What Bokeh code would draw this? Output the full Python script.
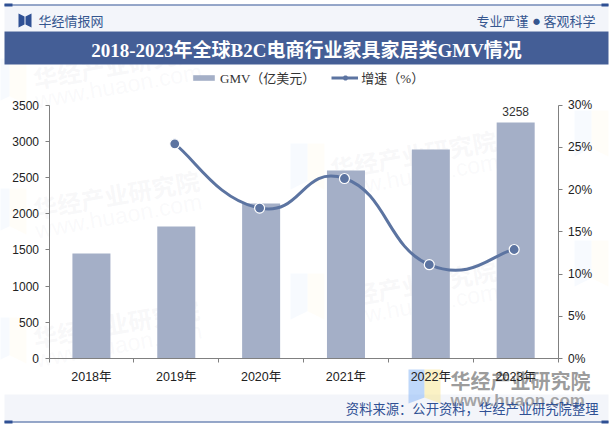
from bokeh.plotting import figure
from bokeh.models import (Range1d, LinearAxis, FixedTicker, Label, BoxAnnotation, PolyAnnotation,
                          CustomJSTickFormatter, Legend, LegendItem)
from bokeh.core.properties import value
from bokeh.embed import file_html
from bokeh.resources import INLINE

years = ["2018年", "2019年", "2020年", "2021年", "2022年", "2023年"]
gmv = [1450, 1822, 2140, 2596, 2886, 3258]
growth_years = [1, 2, 3, 4, 5]
growth = [25.4, 17.8, 21.3, 11.1, 12.9]
title = "2018-2023年全球B2C电商行业家具家居类GMV情况"
source_note = "资料来源：公开资料，华经产业研究院整理"
brand_left = "华经情报网"
brand_right_a = "专业严谨"
brand_right_b = "客观科学"
wm_cn = "华经产业研究院"
wm_en = "www.huaon.com"

BAR = "#a4afc7"
LINE = "#5c74a1"
NAVY = "#2f5094"
BAND = "#445e96"
PALE = "#f3f5fa"
CJK = "Noto Sans CJK SC"
SANS = "Liberation Sans, " + CJK
SERIF = "Liberation Serif, " + CJK
W, H = 612, 425
AX_L, AX_R, AX_T, AX_B = 48.5, 557.6, 104.5, 358.0

pitch = (AX_R - AX_L) / 6
x_lo = -0.5 - AX_L / pitch
x_hi = 5.5 + (W - AX_R) / pitch
yk = 3500 / (AX_B - AX_T)
y_lo = -(H - AX_B) * yk
y_hi = AX_B * yk
pk = 30 / (AX_B - AX_T)

p = figure(width=W, height=H, output_backend="svg", toolbar_location=None,
           x_range=Range1d(x_lo, x_hi), y_range=Range1d(y_lo, y_hi),
           x_axis_location=None, y_axis_location=None,
           min_border=0, background_fill_color="#ffffff", border_fill_color="#ffffff",
           outline_line_color=None)
p.grid.visible = False


def box(l, r, t, b, color, level="underlay", alpha=1.0):
    p.add_layout(BoxAnnotation(left=l, right=r, top=t, bottom=b, left_units="canvas",
                               right_units="canvas", top_units="canvas", bottom_units="canvas", fill_color=color,
                               fill_alpha=alpha, line_color=None, level=level, editable=False))


def label(x, y, text, color, size, align="left", font=CJK, style="normal", angle=0, alpha=1.0, level="annotation",
          baseline="middle"):
    p.add_layout(Label(x=x, y=y, x_units="canvas", y_units="canvas", text=text, text_color=color,
                       text_font_size=f"{size}px", text_align=align, text_baseline=baseline, text_font=font,
                       text_font_style=style, angle=angle, angle_units="deg", text_alpha=alpha, level=level))


def poly(xs, ys, color, alpha, level="underlay"):
    p.add_layout(PolyAnnotation(xs=xs, ys=ys, xs_units="canvas",
                                ys_units="canvas", fill_color=color, fill_alpha=alpha, line_color=None, level=level))


def logo(x, y, w, h, alpha, level="underlay"):
    poly([x, x + w / 2, x + w / 2, x], [y, y, y + h * 0.82, y + h], "#7fb2f5", alpha, level)
    poly([x + w / 2, x + w, x + w, x + w / 2], [y, y, y + h, y + h * 0.82], "#f8e58c", alpha, level)


# faint repeated watermarks behind the chart
for tx, ty in [(33, 78), (33, 208), (33, 337), (330, 168), (330, 298)]:
    label(tx, ty, wm_cn, "#b9bcc4", 24, style="bold", angle=10, alpha=0.11, level="underlay", baseline="alphabetic")
    label(tx + 2, ty + 22, wm_en, "#b9bcc4", 23, font="Liberation Sans", angle=10, alpha=0.08, level="underlay",
          baseline="alphabetic")
for lx, ly in [(-8, 58), (-8, 188), (-8, 317), (290, 143), (290, 273), (574, 110), (574, 240)]:
    logo(lx, ly, 34, 46, 0.06)

# header and footer
box(4, 608, 5, 31, PALE)
box(4, 608, 31, 64, BAND)
box(4, 608, 394, 421, PALE)
box(4, 608, 4, 5, NAVY)
box(4, 12, 3, 6, NAVY)
box(601, 608, 3, 6, NAVY)
box(4, 608, 421, 422, NAVY)
box(4, 12, 420, 423, NAVY)
box(601, 608, 420, 423, NAVY)
poly([18, 24, 24, 18], [13, 16, 24, 27], NAVY, 1)
poly([31, 25, 25, 31], [13, 16, 24, 27], NAVY, 1)
label(38, 20, brand_left, "#35568f", 13)
label(476, 20, brand_right_a, "#35568f", 13)
label(536, 20, "●", "#35568f", 7, align="center")
label(595, 20, brand_right_b, "#35568f", 13, align="right")
label(306, 50, title, "#ffffff", 19, align="center", font=SERIF, style="bold")

# corner logo, under the axis labels
logo(408, 369, 32, 34, 0.5)
label(450, 380, wm_cn, "#8a8a8a", 20, style="bold", alpha=0.85, level="underlay")
label(450, 400, wm_en, "#8a8a8a", 17, font="Liberation Sans", style="bold", alpha=0.75, level="underlay")

# chart
bars = p.vbar(x=list(range(len(years))), top=gmv, width=0.448, fill_color=BAR, line_color=None)
p.text(x=[len(years) - 1], y=[gmv[-1]], text=[str(gmv[-1])], text_align="center", text_baseline="bottom", y_offset=-7,
       text_font_size="12px", text_color="#333333", text_font=value("Liberation Sans"))

p.extra_y_ranges = {"pct": Range1d(y_lo / yk * pk, y_hi / yk * pk)}

# smooth curve: one cubic segment between each neighbouring pair of readings
shift = -0.018
k = 0.25
n = len(growth)
gx = [v + shift for v in growth_years]
x0, y0, x1, y1, cx0, cy0, cx1, cy1 = [], [], [], [], [], [], [], []
for i in range(n - 1):
    a, b, c = max(i - 1, 0), i + 1, min(i + 2, n - 1)
    x0.append(gx[i]); y0.append(growth[i]); x1.append(gx[b]); y1.append(growth[b])
    cx0.append(gx[i] + (gx[b] - gx[a]) * k)
    cy0.append(growth[i] + (growth[b] - growth[a]) * k)
    cx1.append(gx[b] - (gx[c] - gx[i]) * k)
    cy1.append(growth[b] - (growth[c] - growth[i]) * k)
curve = p.bezier(x0=x0, y0=y0, x1=x1, y1=y1, cx0=cx0, cy0=cy0, cx1=cx1, cy1=cy1, line_color=LINE, line_width=3,
                 y_range_name="pct")
pts = p.scatter(x=gx, y=growth, size=10, fill_color=LINE, line_color="#ffffff", line_width=1.2, y_range_name="pct")

# axes
bottom = LinearAxis(fixed_location=0, bounds=(-0.5, 5.5),
                    ticker=FixedTicker(ticks=list(range(len(years))), minor_ticks=[-0.5, 0.5, 1.5, 2.5, 3.5, 4.5, 5.5]),
                    major_label_overrides={i: y for i, y in enumerate(years)})
left = LinearAxis(fixed_location=-0.5, bounds=(0, 3500),
                  ticker=FixedTicker(ticks=[0, 500, 1000, 1500, 2000, 2500, 3000, 3500]))
right = LinearAxis(fixed_location=5.5, bounds=(0, 30), y_range_name="pct",
                   ticker=FixedTicker(ticks=[0, 5, 10, 15, 20, 25, 30]),
                   formatter=CustomJSTickFormatter(code="return tick + '%'"))
p.add_layout(bottom, "below")
p.add_layout(left, "left")
p.add_layout(right, "right")
for ax in [bottom, left, right]:
    ax.axis_line_color = "#808080"
    ax.axis_line_width = 1
    ax.major_tick_line_color = "#808080"
    ax.major_tick_in = 0
    ax.major_tick_out = 4
    ax.minor_tick_line_color = None
    ax.major_label_text_color = "#222222"
    ax.major_label_text_font = SANS
    ax.major_label_text_font_size = "12px"
    ax.major_label_standoff = 6
bottom.major_tick_line_color = None
bottom.minor_tick_line_color = "#808080"
bottom.minor_tick_in = 0
bottom.minor_tick_out = 4
bottom.major_label_text_font_size = "12.5px"
bottom.major_label_standoff = 7

# legend
legend = Legend(items=[LegendItem(label="GMV（亿美元）", renderers=[bars]),
                       LegendItem(label="增速（%）", renderers=[curve])],
                orientation="horizontal", location=(190, H - 87), padding=0, margin=0, spacing=16,
                glyph_width=27, glyph_height=7, label_standoff=3, background_fill_alpha=0, border_line_color=None,
                label_text_font=SERIF, label_text_font_size="13px", label_text_color="#333333")
p.add_layout(legend, "center")
poly([342.5, 344, 346, 347.5, 347.5, 346, 344, 342.5], [76.5, 75, 75, 76.5, 78.5, 80, 80, 78.5], LINE, 1,
     level="annotation")

# source note on top of the corner watermark
label(598, 408, source_note, "#2f5094", 13.3, align="right", level="overlay")

open("out.html", "w").write(file_html(p, INLINE))
